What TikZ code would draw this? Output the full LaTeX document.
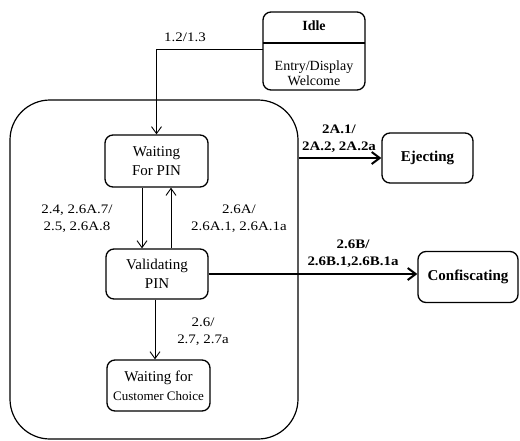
\documentclass[tikz,border=0pt]{standalone}
\usepackage{fontspec}
\setmainfont{Liberation Serif}
\newfontfamily\lblfam{Liberation Serif}[FakeStretch=1.15]
\usetikzlibrary{arrows.meta}
\begin{document}
\begin{tikzpicture}[x=1pt,y=-1pt,
  statebox/.style={draw, line width=1.3pt, rounded corners=8pt, align=center,
    font=\fontsize{15}{19}\selectfont, inner sep=0pt},
  superbox/.style={draw, line width=1.2pt, rounded corners=40pt, inner sep=0pt},
  lbl/.style={align=center, font=\lblfam\fontsize{13}{17}\selectfont, inner sep=0pt},
  blbl/.style={align=center, font=\lblfam\bfseries\fontsize{13}{17}\selectfont, inner sep=0pt},
  thinarr/.style={line width=0.9pt, -{Straight Barb[length=7pt,width=10pt]}},
  thickarr/.style={line width=2pt, -{Straight Barb[length=8pt,width=12pt]}},
]
\useasboundingbox (0,0) rectangle (520,440);

% superstate
\node[superbox, minimum width=288pt, minimum height=339pt] (super) at (154,269.5) {};

% Idle state
\node[statebox, minimum width=102pt, minimum height=78pt] (idle) at (314,51) {};
\coordinate (divl) at (263,43);
\coordinate (divr) at (365,43);
\draw[line width=1.1pt] (divl) -- (divr);
\node[inner sep=0pt, font=\bfseries\fontsize{14}{17}\selectfont] (idlename) at (314,26) {Idle};
\node[inner sep=0pt, align=center, font=\fontsize{14}{15}\selectfont] (idleact) at (314,73) {Entry/Display\\Welcome};

% inner states
\node[statebox, minimum width=103pt, minimum height=52pt] (wait) at (156.5,161) {Waiting\\For PIN};
\node[statebox, minimum width=102pt, minimum height=50pt] (valid) at (157,274) {Validating\\PIN};
\node[statebox, minimum width=103pt, minimum height=51pt] (cust) at (158.5,385.5)
  {Waiting for\\{\fontsize{13}{15}\selectfont Customer Choice}};

% outer states
\node[statebox, font=\bfseries\fontsize{15}{19}\selectfont, minimum width=91pt, minimum height=50pt] (eject) at (427.5,158) {Ejecting};
\node[statebox, font=\bfseries\fontsize{15}{19}\selectfont, minimum width=100pt, minimum height=51pt] (conf) at (468,277) {Confiscating};

% transitions
\coordinate (idleout) at (263,49);
\draw[thinarr] (idleout) -| (wait.north);
\draw[thinarr] ([xshift=-14.5pt]wait.south) -- ([xshift=-14.5pt]wait.south |- valid.north);
\draw[thinarr] ([xshift=14.5pt]wait.south |- valid.north) -- ([xshift=14.5pt]wait.south);
\draw[thinarr] ([xshift=-2pt]valid.south) -- ([xshift=-2pt]valid.south |- cust.north);
\draw[thickarr] (super.east |- eject.west) -- (eject.west);
\draw[thickarr] (valid.east) -- (valid.east -| conf.west);

% labels
\node[lbl] (l12) at (185,37) {1.2/1.3};
\node[lbl] (l24) at (77,218.5) {2.4, 2.6A.7/\\2.5, 2.6A.8};
\node[lbl] (l26a) at (239,218.5) {2.6A/\\2.6A.1, 2.6A.1a};
\node[lbl] (l26) at (203,332) {2.6/\\2.7, 2.7a};
\node[blbl] (l2a) at (339,139) {2A.1/\\2A.2, 2A.2a};
\node[blbl] (l26b) at (353,254) {2.6B/\\2.6B.1,2.6B.1a};
\end{tikzpicture}
\end{document}
